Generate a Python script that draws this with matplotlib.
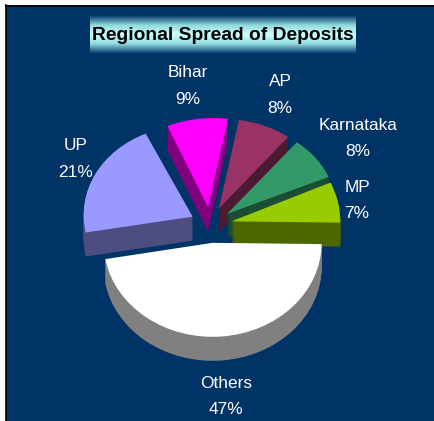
import numpy as np
import matplotlib
matplotlib.use("Agg")
import matplotlib.pyplot as plt
from matplotlib.colors import LinearSegmentedColormap
from matplotlib.patches import Rectangle
from matplotlib.transforms import Affine2D

regions = ["Others", "MP", "Karnataka", "AP", "Bihar", "UP"]
shares = [47, 7, 8, 8, 9, 21]
top_colors = ["#FFFFFF", "#99CC00", "#339966", "#993366", "#FF00FF", "#9999FF"]
side_colors = ["#808080", "#4D6600", "#1A4D33", "#4D1A33", "#800080", "#4D4D80"]
paint_rank = [5, 4, 2, 1, 0, 3]
label_px = [(226, 396.5), (357, 200.5), (358, 138.5), (280, 95), (188, 86), (76, 159)]
persp_k = [1, 1, 0.95, 0.95, 0.95, 0.97]
persp_s = [0, 0, 0.05, 0.045, 0.045, -0.02]

W, H = 435, 421
BG = "#003366"
plt.rcParams["font.family"] = ["Liberation Sans", "DejaVu Sans"]

fig = plt.figure(figsize=(W / 100, H / 100), dpi=100, facecolor="white")
ax = fig.add_axes([0, 0, 1, 1])

cx, cy, a, b, depth = 211, 225, 109, 94, 24
explode = [0.19] * len(shares)

all_wedges = []
for d in range(depth, -1, -1):
    colors = top_colors if d == 0 else side_colors
    wedges, _ = ax.pie(shares, colors=colors, explode=explode, startangle=190,
                       counterclock=True, radius=1, center=(0, -d / b),
                       wedgeprops=dict(linewidth=0), frame=False)
    for i, (w, r) in enumerate(zip(wedges, paint_rank)):
        w.set_zorder(3 + r + (depth - d) / (depth + 1))
        all_wedges.append((w, i))

ax.set_aspect("auto")
ax.set_xlim((0 - cx) / a, (W - cx) / a)
ax.set_ylim((cy - H) / b, cy / b)
ax.set_axis_off()

for w, i in all_wedges:
    y0 = w.center[1]
    k, s = persp_k[i], persp_s[i]
    tr = Affine2D.from_values(1, 0, s, k, -s * y0, y0 - k * y0)
    w.set_transform(tr + ax.transData)

fig.patches.append(Rectangle((6 / W, 0), (W - 6) / W, 1 - 5 / H, transform=fig.transFigure,
                             facecolor=BG, edgecolor="none", zorder=-2))
fig.add_artist(plt.Line2D([6.5 / W, 6.5 / W], [0, 1 - 5 / H], color="black", lw=1.2, zorder=-1))
fig.add_artist(plt.Line2D([6 / W, 1], [1 - 5.5 / H, 1 - 5.5 / H], color="black", lw=1.2, zorder=-1))
ax.patch.set_alpha(0)

cmap = LinearSegmentedColormap.from_list("t", [BG, "#8FD8DC", "#CFFFFF", "#8FD8DC", BG])
tax = fig.add_axes([90 / W, 1 - 54 / H, 266 / W, 39 / H], zorder=5)
tax.imshow(np.linspace(0, 1, 64)[:, None], cmap=cmap, aspect="auto")
tax.set_axis_off()
fig.text(223 / W, 1 - 35 / H, "Regional Spread of Deposits", ha="center", va="center",
         fontsize=13.9, fontweight="bold", color="black", zorder=6)

for name, val, (x, y) in zip(regions, shares, label_px):
    fig.text(x / W, 1 - y / H, f"{name}\n{val}%", ha="center", va="center", color="white",
             fontsize=12.4, linespacing=1.95, zorder=6)

fig.savefig("out.png", dpi=100, facecolor="white")
